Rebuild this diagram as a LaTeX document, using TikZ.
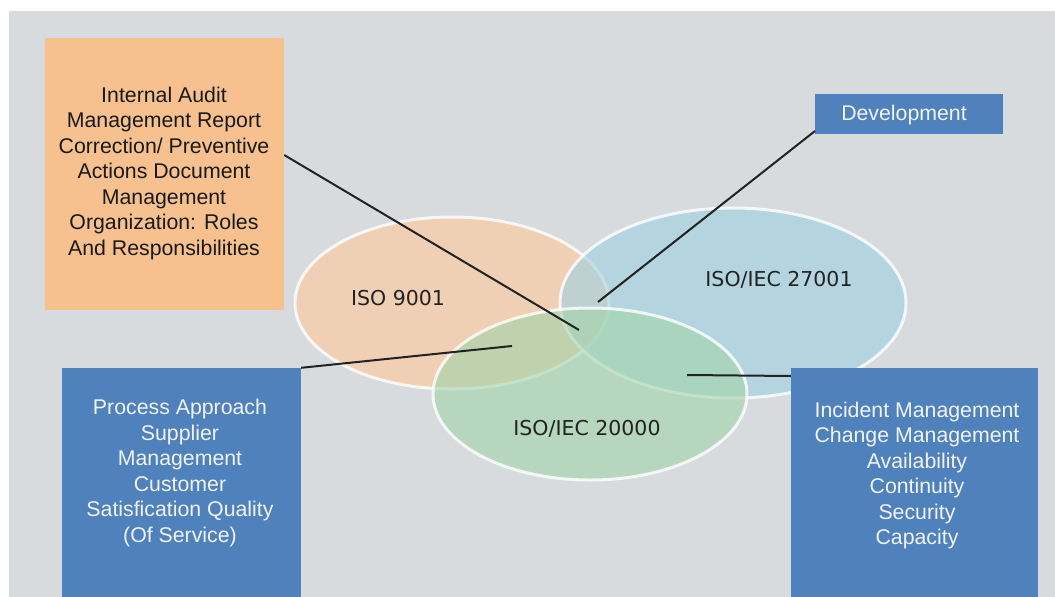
\documentclass[tikz,border=0pt]{standalone}
\usepackage{fontspec}
\setmainfont{Liberation Sans}
\newfontfamily\dejavu{DejaVu Sans}
\usetikzlibrary{shapes.geometric}
\definecolor{bggray}{RGB}{215,219,222}
\definecolor{boxorange}{RGB}{246,193,143}
\definecolor{boxblue}{RGB}{79,129,189}
\definecolor{elorange}{RGB}{255,201,154}
\definecolor{elblue}{RGB}{158,209,225}
\definecolor{elgreen}{RGB}{162,212,169}
\definecolor{linecol}{RGB}{34,34,34}
\definecolor{txtwhite}{RGB}{242,244,247}
\tikzset{
  boxtext/.style={font=\fontsize{21.3}{25.5}\selectfont, align=center},
  orangebox/.style={fill=boxorange, draw=none, inner sep=0pt},
  bluebox/.style={fill=boxblue, draw=none, inner sep=0pt},
  venn/.style={ellipse, draw=white, line width=3pt, draw opacity=0.8, fill opacity=0.6, inner sep=0pt},
  vennlabel/.style={font=\dejavu\fontsize{20.5}{24}\selectfont, text=linecol},
  conn/.style={draw=linecol, line width=2pt}
}
\begin{document}
\begin{tikzpicture}[x=1pt,y=-1pt]
\useasboundingbox (0,0) rectangle (1055,597);
\fill[white] (0,0) rectangle (1055,597);
\fill[bggray] (9,11) rectangle (1055,597);

% ellipses
\node[venn, fill=elorange, minimum width=314, minimum height=172] (e1) at (452,303) {};
\node[venn, fill=elblue, minimum width=346, minimum height=190] (e2) at (733,303) {};
\node[venn, fill=elgreen, minimum width=314, minimum height=172] (e3) at (590,394) {};
\node[vennlabel] (l1) at (398,298) {ISO 9001};
\node[vennlabel] (l2) at (779,280) {ISO/IEC 27001};
\node[vennlabel] (l3) at (587,429) {ISO/IEC 20000};

% boxes
\node[orangebox, minimum width=239, minimum height=272] (ob) at (164.5,174) {};
\node[boxtext, text=black!90] (obt) at (164,173) {Internal Audit\\Management Report\\Correction/ Preventive\\Actions Document\\Management\\Organization: Roles\\And Responsibilities};

\node[bluebox, minimum width=188, minimum height=40] (dev) at (909,114) {};
\node[boxtext, text=txtwhite] (devt) at (904,115) {Development};

\node[bluebox, minimum width=239, minimum height=229] (lb) at (181.5,482.5) {};
\node[boxtext, text=txtwhite] (lbt) at (180,473) {Process Approach\\Supplier\\Management\\Customer\\Satisfication Quality\\(Of Service)};

\node[bluebox, minimum width=247, minimum height=229] (rb) at (914.5,482.5) {};
\node[boxtext, text=txtwhite] (rbt) at (917,475.5) {Incident Management\\Change Management\\Availability\\Continuity\\Security\\Capacity};

% connector end points
\coordinate (p1) at (579,330);
\coordinate (p2) at (598,302);
\coordinate (p3) at (512,346);
\coordinate (p4) at (687,375);
\coordinate (s1) at (ob.east |- 0,155);
\coordinate (s2) at (815,131);
\coordinate (s3) at (lb.north east);
\coordinate (s4) at (rb.west |- 0,376);

\draw[conn] (s1) -- (p1);
\draw[conn] (s2) -- (p2);
\draw[conn] (s3) -- (p3);
\draw[conn] (s4) -- (p4);
\end{tikzpicture}
\end{document}
